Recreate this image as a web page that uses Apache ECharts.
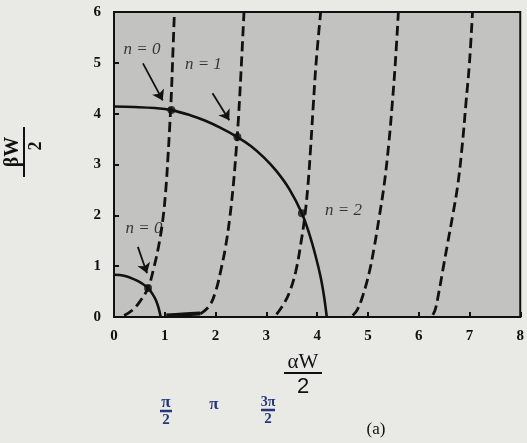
<!DOCTYPE html>
<html>
<head>
<meta charset="utf-8">
<script src="https://cdn.jsdelivr.net/npm/echarts@6/dist/echarts.min.js"></script>
<style>
html,body{margin:0;padding:0;background:#e9eae6;}
#chart{width:527px;height:443px;}
</style>
</head>
<body>
<div id="chart"></div>
<script>
// Tick labels
var xTicks = [0,1,2,3,4,5,6,7,8];
var yTicks = [0,1,2,3,4,5,6];

// Solid circles
var bigCircle = [[0,4.14],[0.4,4.13],[0.8,4.11],[1.13,4.07],[1.5,3.97],[1.8,3.86],[2.1,3.72],[2.43,3.54],[2.7,3.36],[2.95,3.14],[3.2,2.87],[3.45,2.52],[3.70,2.04],[3.85,1.62],[3.97,1.2],[4.07,0.78],[4.14,0.38],[4.19,0]];
var smallCircle = [[0,0.83],[0.2,0.81],[0.4,0.74],[0.55,0.66],[0.67,0.57],[0.76,0.45],[0.83,0.32],[0.88,0.17],[0.92,0]];

// Dashed curves
var curve1 = [[0.2,0.03],[0.37,0.14],[0.52,0.32],[0.67,0.57],[0.78,0.95],[0.88,1.4],[0.96,1.9],[1.02,2.5],[1.06,3.1],[1.1,3.8],[1.13,4.4],[1.16,5.2],[1.19,6.0]];
var curve2 = [[1.7,0.06],[1.88,0.22],[2.0,0.5],[2.1,0.9],[2.2,1.4],[2.28,1.95],[2.35,2.6],[2.4,3.2],[2.45,3.9],[2.5,4.8],[2.56,6.0]];
var curve3 = [[3.2,0.05],[3.35,0.27],[3.46,0.5],[3.58,0.9],[3.68,1.45],[3.76,2.0],[3.82,2.6],[3.87,3.3],[3.92,4.1],[3.98,5.0],[4.07,6.0]];
var curve4 = [[4.7,0.03],[4.79,0.14],[4.9,0.42],[5.02,0.85],[5.12,1.35],[5.22,1.95],[5.32,2.6],[5.41,3.4],[5.48,4.2],[5.54,5.0],[5.6,6.0]];
var curve5 = [[6.28,0.04],[6.33,0.16],[6.4,0.5],[6.48,0.95],[6.57,1.45],[6.67,2.0],[6.77,2.6],[6.86,3.4],[6.93,4.2],[7.0,5.0],[7.06,6.0]];
// Thick segment along the axis
var baseSeg = [[1.03,0.03],[1.35,0.05],[1.7,0.07]];

// Intersection dots
var dots = [[1.13,4.07],[2.43,3.54],[3.70,2.04],[0.67,0.57]];

// Mode labels and arrows
var modeLabels = [
  {text:'n = 0', pos:[0.55,5.27]},
  {text:'n = 1', pos:[1.76,4.97]},
  {text:'n = 2', pos:[4.52,2.10]},
  {text:'n = 0', pos:[0.59,1.75]}
];
var arrows = [
  [[0.57,4.99],[0.96,4.26]],
  [[1.94,4.40],[2.27,3.87]],
  [[0.47,1.38],[0.65,0.86]]
];

var chart = echarts.init(document.getElementById('chart'), null, {renderer:'canvas'});

var serif = '"Liberation Serif","DejaVu Serif",serif';
var dashed = {color:'#111', width:2.8, type:[10,5]};

function dashSeries(d){
  return {type:'line', data:d, smooth:0.4, symbol:'none', lineStyle:dashed, z:3, silent:true};
}

var option = {
  backgroundColor:'#e9eae6',
  animation:false,
  grid:{left:114, top:12, width:409, height:305, show:true, backgroundColor:'#c2c2c0', borderColor:'#111', borderWidth:2},
  xAxis:{type:'value', min:xTicks[0], max:xTicks[xTicks.length-1], interval:1,
    axisLine:{show:true, onZero:false, lineStyle:{color:'#111', width:2}},
    axisTick:{show:true, inside:true, length:5, lineStyle:{color:'#111', width:2}},
    splitLine:{show:false},
    axisLabel:{color:'#111', fontFamily:serif, fontWeight:'bold', fontSize:15, margin:12}},
  yAxis:{type:'value', min:yTicks[0], max:yTicks[yTicks.length-1], interval:1,
    axisLine:{show:true, onZero:false, lineStyle:{color:'#111', width:2}},
    axisTick:{show:true, inside:true, length:5, lineStyle:{color:'#111', width:2}},
    splitLine:{show:false},
    axisLabel:{color:'#111', fontFamily:serif, fontWeight:'bold', fontSize:15, margin:13}},
  series:[
    {type:'line', data:bigCircle, smooth:0.4, symbol:'none', lineStyle:{color:'#111', width:2.6}, z:4, silent:true},
    {type:'line', data:smallCircle, smooth:0.4, symbol:'none', lineStyle:{color:'#111', width:2.6}, z:4, silent:true},
    dashSeries(curve1), dashSeries(curve2), dashSeries(curve3), dashSeries(curve4), dashSeries(curve5),
    {type:'line', data:baseSeg, smooth:0.3, symbol:'none', lineStyle:{color:'#111', width:4}, z:3, silent:true},
    {type:'scatter', data:dots, symbol:'circle', symbolSize:8, itemStyle:{color:'#111'}, z:5, silent:true},
    {type:'lines', coordinateSystem:'cartesian2d', data:arrows.map(function(a){return {coords:a};}),
      symbol:['none','arrow'], symbolSize:10, lineStyle:{color:'#111', width:1.8, opacity:1}, z:5, silent:true},
    {type:'scatter', data:modeLabels.map(function(m){return {value:m.pos, label:{formatter:m.text}};}),
      symbolSize:0, z:6, silent:true,
      label:{show:true, position:'inside', color:'#111', fontFamily:serif, fontStyle:'italic', fontSize:17}}
  ],
  graphic:[
    // y-axis title (rotated fraction)
    {type:'group', x:24, y:152, rotation:Math.PI/2, children:[
      {type:'text', x:0, y:-11, style:{text:'βW', font:'bold 20px '+serif, fill:'#111', align:'center', verticalAlign:'middle'}},
      {type:'line', shape:{x1:-25, y1:0, x2:25, y2:0}, style:{stroke:'#111', lineWidth:2}},
      {type:'text', x:6, y:12, style:{text:'2', font:'bold 18px '+serif, fill:'#111', align:'center', verticalAlign:'middle'}}
    ]},
    // x-axis title (fraction)
    {type:'group', x:303, y:373, children:[
      {type:'text', x:0, y:-11, style:{text:'αW', font:'21px '+serif, fill:'#111', align:'center', verticalAlign:'middle'}},
      {type:'line', shape:{x1:-19, y1:0, x2:19, y2:0}, style:{stroke:'#111', lineWidth:2}},
      {type:'text', x:0, y:14, style:{text:'2', font:'22px "Liberation Sans",sans-serif', fill:'#111', align:'center', verticalAlign:'middle'}}
    ]},
    // handwritten marks
    {type:'group', x:166, y:411, children:[
      {type:'text', x:0, y:-8, style:{text:'π', font:'bold 17px '+serif, fill:'#23367a', align:'center', verticalAlign:'middle'}},
      {type:'line', shape:{x1:-6, y1:0, x2:6, y2:0}, style:{stroke:'#23367a', lineWidth:2.5}},
      {type:'text', x:0, y:9, style:{text:'2', font:'bold 15px '+serif, fill:'#23367a', align:'center', verticalAlign:'middle'}}
    ]},
    {type:'text', x:214, y:405, style:{text:'π', font:'bold 17px '+serif, fill:'#23367a', align:'center', verticalAlign:'middle'}},
    {type:'group', x:268, y:410, children:[
      {type:'text', x:0, y:-8, style:{text:'3π', font:'bold 14px '+serif, fill:'#23367a', align:'center', verticalAlign:'middle'}},
      {type:'line', shape:{x1:-7, y1:0, x2:7, y2:0}, style:{stroke:'#23367a', lineWidth:2.5}},
      {type:'text', x:0, y:9, style:{text:'2', font:'bold 15px '+serif, fill:'#23367a', align:'center', verticalAlign:'middle'}}
    ]},
    {type:'text', x:376, y:430, style:{text:'(a)', font:'17px '+serif, fill:'#111', align:'center', verticalAlign:'middle'}}
  ]
};
chart.setOption(option);
</script>
</body>
</html>
